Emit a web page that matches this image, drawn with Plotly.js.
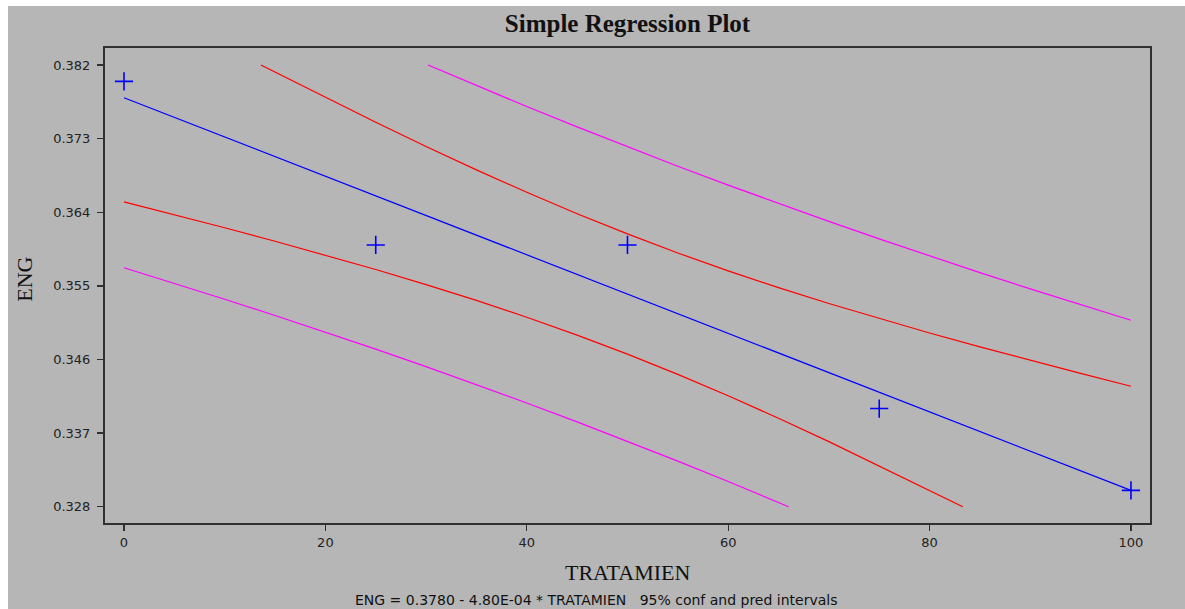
<!DOCTYPE html>
<html>
<head>
<meta charset="utf-8">
<script src="https://cdn.plot.ly/plotly-3.0.1.min.js"></script>
<style>
  html, body { margin: 0; padding: 0; background: #ffffff; width: 1185px; height: 609px; overflow: hidden; }
  #chart { position: absolute; left: 8px; top: 6px; width: 1177px; height: 603px; }
</style>
</head>
<body>
<div id="chart"></div>
<script>
// Observed data points
const treatment = [0, 25, 50, 75, 100];
const eng = [0.380, 0.360, 0.360, 0.340, 0.330];

// Fitted line (ENG = 0.3780 - 4.80E-04 * TRATAMIEN)
const fitX = [0, 100];
const fitY = [0.3780, 0.3300];

// 95% confidence interval, lower curve
const ciLoX = [0, 5, 10, 15, 20, 25, 30, 35, 40, 45, 50, 55, 60, 65, 70, 75, 80, 83.3];
const ciLoY = [0.36527, 0.36370, 0.36210, 0.36046, 0.35876, 0.35700, 0.35516, 0.35322, 0.35116,
               0.34898, 0.34665, 0.34418, 0.34156, 0.33882, 0.33596, 0.33300, 0.32996, 0.32800];

// 95% confidence interval, upper curve
const ciHiX = [13.6, 15, 20, 25, 30, 35, 40, 45, 50, 55, 60, 65, 70, 75, 80, 85, 90, 95, 100];
const ciHiY = [0.38200, 0.38114, 0.37804, 0.37500, 0.37204, 0.36918, 0.36644, 0.36382, 0.36135,
               0.35902, 0.35684, 0.35478, 0.35284, 0.35100, 0.34924, 0.34754, 0.34590, 0.34430, 0.34273];

// 95% prediction interval, lower curve
const piLoX = [0, 5, 10, 15, 20, 25, 30, 35, 40, 45, 50, 55, 60, 65, 66];
const piLoY = [0.35721, 0.35531, 0.35337, 0.35138, 0.34935, 0.34726, 0.34512, 0.34293, 0.34068,
               0.33837, 0.33600, 0.33357, 0.33108, 0.32853, 0.32800];

// 95% prediction interval, upper curve
const piHiX = [30.2, 35, 40, 45, 50, 55, 60, 65, 70, 75, 80, 85, 90, 95, 100];
const piHiY = [0.38200, 0.37947, 0.37692, 0.37443, 0.37200, 0.36963, 0.36732, 0.36507, 0.36288,
               0.36074, 0.35865, 0.35662, 0.35463, 0.35269, 0.35079];

// Tick labels
const xTicks = [0, 20, 40, 60, 80, 100];
const yTicks = [0.328, 0.337, 0.346, 0.355, 0.364, 0.373, 0.382];
const yTickText = ["0.328", "0.337", "0.346", "0.355", "0.364", "0.373", "0.382"];

const titleText = "Simple Regression Plot";
const xTitle = "TRATAMIEN";
const yTitle = "ENG";
const footText = "ENG = 0.3780 - 4.80E-04 * TRATAMIEN   95% conf and pred intervals";

const lineW = 1.2;
const traces = [
  { x: piLoX, y: piLoY, mode: 'lines', line: { color: '#ff00ff', width: lineW }, hoverinfo: 'skip' },
  { x: piHiX, y: piHiY, mode: 'lines', line: { color: '#ff00ff', width: lineW }, hoverinfo: 'skip' },
  { x: ciLoX, y: ciLoY, mode: 'lines', line: { color: '#ff0000', width: lineW }, hoverinfo: 'skip' },
  { x: ciHiX, y: ciHiY, mode: 'lines', line: { color: '#ff0000', width: lineW }, hoverinfo: 'skip' },
  { x: fitX, y: fitY, mode: 'lines', line: { color: '#0000ff', width: lineW }, hoverinfo: 'skip' },
  { x: treatment, y: eng, mode: 'markers',
    marker: { symbol: 'cross-thin', size: 13, color: '#0000ff', line: { color: '#0000ff', width: 1.6 } } }
];

const axisCommon = {
  showgrid: false, zeroline: false,
  showline: true, mirror: true, linecolor: '#303030', linewidth: 2,
  ticks: 'outside', ticklen: 6, tickwidth: 1.3, tickcolor: '#303030',
  tickfont: { family: 'DejaVu Sans', size: 13, color: '#222222' }
};

const layout = {
  width: 1177, height: 603,
  paper_bgcolor: '#b6b6b6', plot_bgcolor: '#b6b6b6',
  margin: { l: 97, r: 35, t: 42, b: 86, pad: 0 },
  showlegend: false,
  title: { text: '<b>' + titleText + '</b>', x: 0.5, xref: 'paper', xanchor: 'center',
           y: 1 - 17 / 603, yref: 'container', yanchor: 'middle',
           font: { family: 'Liberation Serif', size: 25, color: '#111111' } },
  xaxis: Object.assign({}, axisCommon, {
    range: [-1.887, 101.89], tickmode: 'array', tickvals: xTicks, ticktext: xTicks.map(String),
    ticklabelstandoff: 0
  }),
  yaxis: Object.assign({}, axisCommon, {
    range: [0.32601, 0.38408], tickmode: 'array', tickvals: yTicks, ticktext: yTickText,
    ticklabelstandoff: 4
  }),
  annotations: [
    { text: xTitle, xref: 'paper', yref: 'paper', x: 0.5, y: 0, xanchor: 'center', yanchor: 'middle',
      yshift: -49, showarrow: false, font: { family: 'Liberation Serif', size: 22, color: '#111111' } },
    { text: yTitle, xref: 'paper', yref: 'paper', x: 0, y: 0.512, xanchor: 'center', yanchor: 'middle',
      xshift: -80, textangle: -90, showarrow: false, font: { family: 'Liberation Serif', size: 22, color: '#111111' } },
    { text: footText, xref: 'paper', yref: 'paper', x: (587.5 - 97) / 1045, y: 0, xanchor: 'center', yanchor: 'middle',
      yshift: -77, showarrow: false, font: { family: 'DejaVu Sans', size: 14, color: '#111111' } }
  ]
};

Plotly.newPlot('chart', traces, layout, { displayModeBar: false, staticPlot: true });
</script>
</body>
</html>
